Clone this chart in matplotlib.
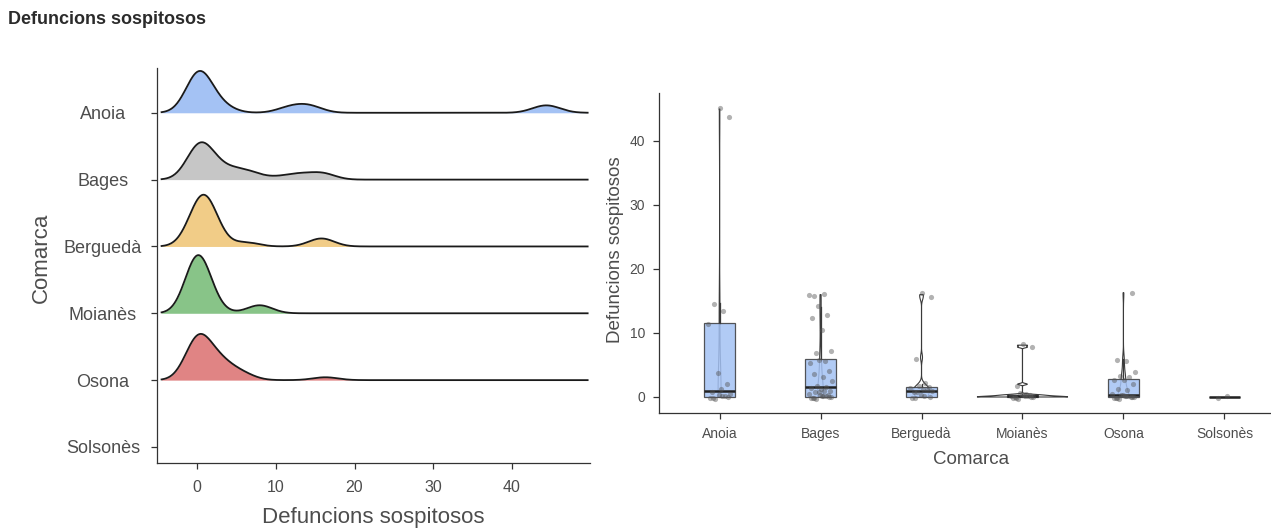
import numpy as np
import matplotlib
matplotlib.use("Agg")
import matplotlib.pyplot as plt

plt.rcParams['font.family'] = ['Liberation Sans', 'DejaVu Sans']

comarques = ["Anoia", "Bages", "Berguedà", "Moianès", "Osona", "Solsonès"]
anoia = [0, 0, 0, 0, 0, 0, 0, 0.5, 1, 1, 2, 3.5, 11.5, 13.3, 14.7, 43.7, 45]
bages = [0, 0, 0, 0, 0, 0, 0, 0, 0, 0, 0.3, 0.5, 0.5, 0.8, 1, 1, 1, 1.5, 1.5,
         2, 2.5, 3, 3.8, 4, 5.5, 5.5, 5.5, 7.2, 7.2, 10.3, 12.5, 12.7, 14, 16, 16, 16]
bergueda = [0, 0, 0, 0, 0, 1, 1, 1, 1, 1, 1.5, 1.5, 1.5, 2, 6.2, 15.6, 16]
moianes = [0, 0, 0, 0, 0, 0, 0, 0, 0.1, 0.2, 0.2, 0.3, 0.3, 0.4, 2, 7.8, 8.1]
osona = [0, 0, 0, 0, 0, 0, 0, 0, 0, 0, 0, 0, 0.5, 1, 1.5, 2, 2.5, 2.8, 3, 3.5,
         4, 5.5, 6, 16.3]
solsones = [0, 0]
groups = [anoia, bages, bergueda, moianes, osona, solsones]

ridge_colors = ["#a4c2f4", "#c6c6c6", "#f1cc87", "#88c488", "#e08484", "#ffffff"]
x_ticks = [0, 10, 20, 30, 40]
y_ticks_right = [0, 10, 20, 30, 40]

TEXT = "#4d4d4d"
AXIS = "#333333"
RIDGE_BW = 1.6


def kde(values, grid, bw):
    v = np.asarray(values, float)[:, None]
    z = (grid[None, :] - v) / bw
    return np.exp(-0.5 * z ** 2).sum(axis=0) / (len(v) * bw * np.sqrt(2 * np.pi))


def bw_nrd0(values):
    v = np.asarray(values, float)
    iqr = np.subtract(*np.percentile(v, [75, 25]))
    lo = min(v.std(ddof=1), iqr / 1.34)
    if lo == 0:
        lo = v.std(ddof=1) or abs(v[0]) or 1
    return 0.9 * lo * len(v) ** -0.2


def style_axes(ax):
    for s in ["top", "right"]:
        ax.spines[s].set_visible(False)
    for s in ["left", "bottom"]:
        ax.spines[s].set_color(AXIS)
        ax.spines[s].set_linewidth(0.9)
    ax.tick_params(colors=AXIS, labelcolor=TEXT, length=4, width=0.9)


fig = plt.figure(figsize=(12.71, 5.31), dpi=100)
fig.text(8 / 1271, 1 - 20 / 531, "Defuncions sospitosos", fontsize=13,
         fontweight="bold", color="#2b2b2b", va="center", ha="left")

# ---- left: ridgeline densities ----
ax1 = fig.add_axes([157 / 1271, 68 / 531, 433 / 1271, 395 / 531])
grid = np.linspace(-4.5, 49.6, 600)
dens = []
for vals in groups:
    if len(set(vals)) < 2:
        dens.append(None)
    else:
        dens.append(kde(vals, grid, RIDGE_BW))
dmax = max(d.max() for d in dens if d is not None)
n = len(comarques)
for i, (name, d) in enumerate(zip(comarques, dens)):
    base = n - 1 - i
    if d is None:
        continue
    h = base + d / dmax * 0.87
    ax1.fill_between(grid, base, h, color=ridge_colors[i], lw=0, zorder=2 * i)
    ax1.plot(grid, h, color="#1a1a1a", lw=1.3, zorder=2 * i + 1)

ax1.set_xlim(-5.08, 49.9)
ax1.set_ylim(-0.24, 5.67)
ax1.set_yticks(range(n))
ax1.set_yticklabels(comarques[::-1], fontsize=13, ha="center")
ax1.set_xticks(x_ticks)
ax1.set_xticklabels([str(t) for t in x_ticks], fontsize=11.5)
style_axes(ax1)
ax1.tick_params(axis="y", pad=35)
ax1.tick_params(axis="x", pad=8)
ax1.set_xlabel("Defuncions sospitosos", fontsize=16, color=TEXT)
ax1.xaxis.set_label_coords(0.5, -44 / 395)
ax1.set_ylabel("Comarca", fontsize=16, color=TEXT)
ax1.yaxis.set_label_coords(-0.243, 0.52)

# ---- right: violin + box + jitter ----
ax2 = fig.add_axes([659 / 1271, 118 / 531, 626 / 1271, 320 / 531])
pos = np.arange(n)

vshapes = []
for vals in groups:
    v = np.asarray(vals, float)
    if v.min() == v.max():
        vshapes.append(None)
        continue
    yy = np.linspace(v.min(), v.max(), 300)
    vshapes.append((yy, kde(v, yy, bw_nrd0(v))))
vmax = max(s[1].max() for s in vshapes if s is not None)
for p, s in zip(pos, vshapes):
    if s is None:
        continue
    yy, dd = s
    w = dd / vmax * 0.45
    ax2.fill(np.r_[p - w, (p + w)[::-1]], np.r_[yy, yy[::-1]],
             facecolor="white", edgecolor="#3a3a3a", lw=0.8, zorder=2)

ax2.boxplot(groups, positions=pos, widths=0.3, patch_artist=True,
            showfliers=False, showcaps=False,
            boxprops=dict(facecolor="#a4c2f4", edgecolor="#3a3a3a", lw=0.9, alpha=0.85),
            medianprops=dict(color="#222222", lw=1.8),
            whiskerprops=dict(color="#3a3a3a", lw=0.9), zorder=3)

phi = 0.6180339887
for p, vals in zip(pos, groups):
    k = np.arange(1, len(vals) + 1)
    dx = ((k * phi) % 1 - 0.5) * 0.24
    dy = ((k * phi * phi + 0.37) % 1 - 0.5) * 0.6
    ax2.scatter(p + dx, np.asarray(vals) + dy, s=14, color="#555555",
                alpha=0.45, lw=0, zorder=4)

ax2.set_xlim(-0.6, 5.6)
ax2.set_ylim(-2.5, 47.5)
ax2.set_xticks(pos)
ax2.set_xticklabels(comarques, fontsize=10)
ax2.set_yticks(y_ticks_right)
ax2.set_yticklabels([str(t) for t in y_ticks_right], fontsize=10)
style_axes(ax2)
ax2.tick_params(pad=6)
ax2.set_xlabel("Comarca", fontsize=13.5, color=TEXT)
ax2.xaxis.set_label_coords((971 - 659) / 626, -38 / 320)
ax2.set_ylabel("Defuncions sospitosos", fontsize=13.5, color=TEXT)
ax2.yaxis.set_label_coords(-(659 - 624) / 626, (413 - 250) / 320)

fig.savefig("out.png", dpi=100)
